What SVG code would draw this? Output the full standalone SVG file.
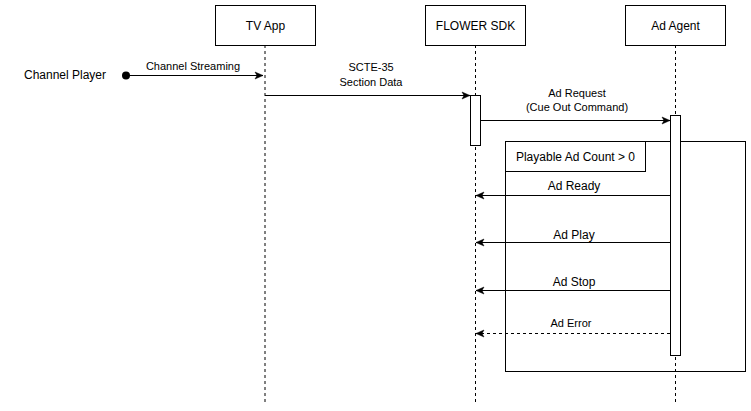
<svg xmlns="http://www.w3.org/2000/svg" width="751" height="411" viewBox="0 0 751 411">
<style>
  .box{fill:#fff;stroke:#000;stroke-width:1}
  .life{stroke:#000;stroke-width:1;stroke-dasharray:3,3;fill:none}
  .msg{stroke:#000;stroke-width:1;fill:none}
  .dash{stroke-dasharray:3,3}
  .t{font-family:"Liberation Sans",Arial,Helvetica,sans-serif;font-size:12px;fill:#000;text-anchor:middle;dominant-baseline:central}
  .s{font-size:11px}
</style>
<defs>
  <marker id="arr" viewBox="0 0 10 10" refX="9" refY="5" markerWidth="10" markerHeight="10" markerUnits="userSpaceOnUse" orient="auto">
    <path d="M1,1.5 L9,5 L1,8.5 L3,5 z" fill="#000" stroke="#000" stroke-width="0.5"/>
  </marker>
</defs>
<rect width="751" height="411" fill="#fff"/>
<g id="lifelines">
  <line class="life" x1="265" y1="45" x2="265" y2="403"/>
  <line class="life" x1="475.5" y1="45" x2="475.5" y2="403"/>
  <line class="life" x1="675.5" y1="45" x2="675.5" y2="403"/>
</g>
<g id="frame">
  <rect class="box" x="505.5" y="141.5" width="240" height="230" style="fill:none"/>
  <rect class="box" x="505.5" y="141.5" width="140" height="30"/>
  <text class="t" x="575.5" y="156.5">Playable Ad Count &gt; 0</text>
</g>
<g id="tvapp">
  <rect class="box" x="215.5" y="5.5" width="100" height="40"/>
  <text class="t" x="265.5" y="25.5">TV App</text>
</g>
<g id="flowersdk">
  <rect class="box" x="425.5" y="5.5" width="100" height="40"/>
  <text class="t" x="475.5" y="25.5">FLOWER SDK</text>
  <rect class="box" x="470.5" y="95.5" width="10" height="50"/>
</g>
<g id="adagent">
  <rect class="box" x="625.5" y="5.5" width="100" height="40"/>
  <text class="t" x="675.5" y="25.5">Ad Agent</text>
  <rect class="box" x="670.5" y="115.5" width="10" height="240"/>
</g>
<g id="channelplayer">
  <text class="t" x="65" y="75">Channel Player</text>
</g>
<g id="connectors">
  <circle cx="126" cy="75.5" r="4" fill="#000"/>
  <line class="msg" x1="126" y1="75.5" x2="263" y2="75.5" marker-end="url(#arr)"/>
  <text class="t s" x="193" y="66">Channel Streaming</text>

  <line class="msg" x1="265" y1="95.5" x2="470" y2="95.5" marker-end="url(#arr)"/>
  <text class="t s" x="371" y="67">SCTE-35</text>
  <text class="t s" x="371" y="82">Section Data</text>

  <line class="msg" x1="480.5" y1="120.5" x2="670" y2="120.5" marker-end="url(#arr)"/>
  <text class="t s" x="577" y="93">Ad Request</text>
  <text class="t s" x="577" y="107">(Cue Out Command)</text>

  <line class="msg" x1="670" y1="195.5" x2="476" y2="195.5" marker-end="url(#arr)"/>
  <text class="t" x="574" y="186">Ad Ready</text>

  <line class="msg" x1="670" y1="242.5" x2="476" y2="242.5" marker-end="url(#arr)"/>
  <text class="t" x="574" y="235">Ad Play</text>

  <line class="msg" x1="670" y1="290.5" x2="476" y2="290.5" marker-end="url(#arr)"/>
  <text class="t" x="574" y="282">Ad Stop</text>

  <line class="msg dash" x1="670" y1="333.5" x2="476" y2="333.5" marker-end="url(#arr)"/>
  <text class="t s" x="571" y="323">Ad Error</text>
</g>
</svg>
